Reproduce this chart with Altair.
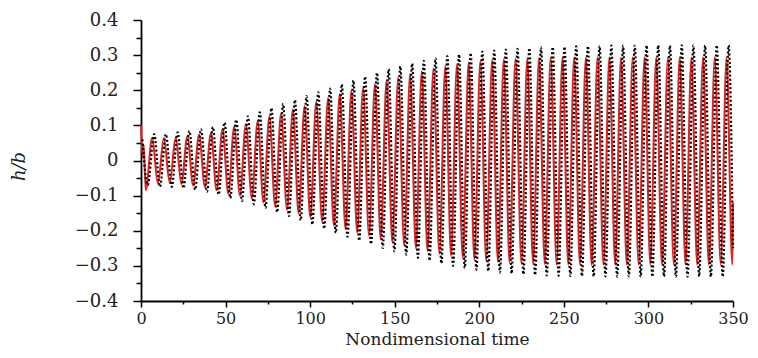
import altair as alt
import pandas as pd

# ---- data ----
# red (solid) response: extrema times and values
red_start_t = [0.0, 1.0, 1.6]
red_start_v = [0.100, 0.010, 0.045]

red_peak_t = [6.6, 13.5, 20.5, 27.4, 34.3, 41.3, 48.2, 55.1, 62.0, 69.0,
              75.9, 82.8, 89.8, 96.7, 103.6, 110.6, 117.5, 124.4, 131.3, 138.3,
              145.2, 152.1, 159.1, 166.0, 172.9, 179.9, 186.8, 193.7, 200.6, 207.6,
              214.5, 221.4, 228.4, 235.3, 242.2, 249.2, 256.1, 263.0, 269.9, 276.9,
              283.8, 290.7, 297.7, 304.6, 311.5, 318.5, 325.4, 332.3, 339.2, 346.2]
red_peak_v = [0.065, 0.063, 0.066, 0.069, 0.073, 0.078, 0.090, 0.097, 0.104, 0.113,
              0.125, 0.134, 0.145, 0.155, 0.167, 0.178, 0.189, 0.199, 0.208, 0.218,
              0.229, 0.237, 0.246, 0.254, 0.262, 0.268, 0.274, 0.279, 0.283, 0.286,
              0.288, 0.290, 0.291, 0.292, 0.293, 0.294, 0.294, 0.293, 0.294, 0.294,
              0.293, 0.294, 0.294, 0.293, 0.294, 0.294, 0.293, 0.294, 0.294, 0.293]

red_trough_t = [2.8, 10.0, 17.0, 23.9, 30.8, 37.8, 44.7, 51.6, 58.5, 65.5,
                72.4, 79.3, 86.3, 93.2, 100.1, 107.1, 114.0, 120.9, 127.8, 134.8,
                141.7, 148.6, 155.6, 162.5, 169.4, 176.4, 183.3, 190.2, 197.1, 204.1,
                211.0, 217.9, 224.9, 231.8, 238.7, 245.7, 252.6, 259.5, 266.4, 273.4,
                280.3, 287.2, 294.2, 301.1, 308.0, 315.0, 321.9, 328.8, 335.7, 342.7,
                349.6]
red_trough_v = [-0.084, -0.066, -0.064, -0.067, -0.071, -0.076, -0.085, -0.094, -0.100, -0.108,
                -0.119, -0.130, -0.140, -0.151, -0.162, -0.174, -0.185, -0.195, -0.205, -0.214,
                -0.224, -0.233, -0.242, -0.250, -0.258, -0.265, -0.271, -0.277, -0.282, -0.286,
                -0.289, -0.291, -0.293, -0.294, -0.295, -0.296, -0.297, -0.296, -0.297, -0.297,
                -0.296, -0.297, -0.297, -0.296, -0.297, -0.297, -0.296, -0.297, -0.297, -0.296,
                -0.297]
red_end_t = [350.0]
red_end_v = [-0.120]

# black (dotted) response: extrema times and values
black_start_t = [0.8]
black_start_v = [0.060]

black_peak_t = [7.8, 14.7, 21.7, 28.6, 35.5, 42.5, 49.4, 56.3, 63.2, 70.2,
                77.1, 84.0, 91.0, 97.9, 104.8, 111.8, 118.7, 125.6, 132.5, 139.5,
                146.4, 153.3, 160.3, 167.2, 174.1, 181.1, 188.0, 194.9, 201.8, 208.8,
                215.7, 222.6, 229.6, 236.5, 243.4, 250.4, 257.3, 264.2, 271.1, 278.1,
                285.0, 291.9, 298.9, 305.8, 312.7, 319.7, 326.6, 333.5, 340.4, 347.4]
black_peak_v = [0.075, 0.075, 0.080, 0.084, 0.089, 0.095, 0.108, 0.116, 0.126, 0.137,
                0.149, 0.161, 0.172, 0.183, 0.194, 0.205, 0.217, 0.228, 0.239, 0.250,
                0.260, 0.268, 0.276, 0.284, 0.291, 0.297, 0.302, 0.306, 0.310, 0.313,
                0.316, 0.318, 0.320, 0.322, 0.323, 0.324, 0.325, 0.326, 0.326, 0.327,
                0.327, 0.327, 0.328, 0.328, 0.327, 0.328, 0.328, 0.327, 0.328, 0.328]

black_trough_t = [4.0, 11.2, 18.2, 25.1, 32.0, 39.0, 45.9, 52.8, 59.7, 66.7,
                  73.6, 80.5, 87.5, 94.4, 101.3, 108.3, 115.2, 122.1, 129.0, 136.0,
                  142.9, 149.8, 156.8, 163.7, 170.6, 177.6, 184.5, 191.4, 198.3, 205.3,
                  212.2, 219.1, 226.1, 233.0, 239.9, 246.9, 253.8, 260.7, 267.6, 274.6,
                  281.5, 288.4, 295.4, 302.3, 309.2, 316.2, 323.1, 330.0, 336.9, 343.9]
black_trough_v = [-0.070, -0.075, -0.075, -0.079, -0.083, -0.089, -0.097, -0.107, -0.115, -0.124,
                  -0.135, -0.147, -0.158, -0.170, -0.182, -0.194, -0.206, -0.217, -0.228, -0.238,
                  -0.249, -0.259, -0.268, -0.277, -0.285, -0.293, -0.300, -0.306, -0.311, -0.315,
                  -0.319, -0.322, -0.324, -0.326, -0.327, -0.328, -0.329, -0.329, -0.330, -0.330,
                  -0.331, -0.330, -0.331, -0.331, -0.330, -0.331, -0.331, -0.330, -0.331, -0.331]
black_end_t = [350.0]
black_end_v = [-0.250]

x_major = [0, 50, 100, 150, 200, 250, 300, 350]
x_minor = [25, 75, 125, 175, 225, 275, 325]
y_major = [-0.4, -0.3, -0.2, -0.1, 0.0, 0.1, 0.2, 0.3, 0.4]
y_minor = [-0.35, -0.25, -0.15, -0.05, 0.05, 0.15, 0.25, 0.35]

# ---- tables ----
red_df = pd.DataFrame({
    "t": red_start_t + red_peak_t + red_trough_t + red_end_t,
    "v": red_start_v + red_peak_v + red_trough_v + red_end_v,
}).sort_values("t").reset_index(drop=True)

black_df = pd.DataFrame({
    "t": black_start_t + black_peak_t + black_trough_t + black_end_t,
    "v": black_start_v + black_peak_v + black_trough_v + black_end_v,
}).sort_values("t").reset_index(drop=True)

FONT = "DejaVu Serif"
RED = "#e5201e"

xscale = alt.Scale(domain=[0, 350], nice=False, zero=False)
yscale = alt.Scale(domain=[-0.4, 0.4], nice=False, zero=False)

major_x = alt.Axis(
    orient="bottom", values=x_major, format="d", grid=False,
    domainColor="black", domainWidth=1.8, tickColor="black", tickWidth=1.5,
    tickSize=6, labelFont=FONT, labelFontSize=16, labelColor="#222222",
    labelPadding=3, labelFlush=False,
    title="Nondimensional time", titleFont=FONT, titleFontSize=17,
    titleFontWeight="normal", titleColor="#222222", titleY=43,
    titleBaseline="alphabetic",
)
major_y = alt.Axis(
    orient="left", values=y_major, grid=False,
    labelExpr="datum.value == 0 ? '0' : format(datum.value, '.1f')",
    domainColor="black", domainWidth=1.8, tickColor="black", tickWidth=1.5,
    tickSize=8, labelFont=FONT, labelFontSize=18, labelColor="#222222",
    labelPadding=15, labelFlush=False,
    title="h/b", titleFont=FONT, titleFontSize=18, titleFontStyle="italic",
    titleFontWeight="normal", titleColor="#222222", titleX=-117, titleY=146,
    titleBaseline="alphabetic",
)
minor_x = alt.Axis(
    orient="bottom", values=x_minor, grid=False, labels=False, domain=False,
    tickColor="black", tickWidth=1.5, tickSize=3, title=None,
)
minor_y = alt.Axis(
    orient="left", values=y_minor, grid=False, labels=False, domain=False,
    tickColor="black", tickWidth=1.5, tickSize=5, title=None,
)

red_line = alt.Chart(red_df).mark_line(
    color=RED, strokeWidth=2, interpolate="monotone"
).encode(
    x=alt.X("t:Q", scale=xscale, axis=major_x),
    y=alt.Y("v:Q", scale=yscale, axis=major_y),
    order="t:Q",
)

black_line = alt.Chart(black_df).mark_line(
    color="black", strokeWidth=2.2, strokeDash=[2, 2.2], interpolate="monotone"
).encode(
    x=alt.X("t:Q", scale=xscale, axis=minor_x),
    y=alt.Y("v:Q", scale=yscale, axis=minor_y),
    order="t:Q",
)

chart = alt.layer(red_line, black_line).resolve_axis(
    x="independent", y="independent"
).properties(
    width=592, height=281,
    autosize=alt.AutoSizeParams(type="none"),
    padding={"left": 133, "top": 12, "right": 17, "bottom": 47},
    background="white",
).configure_view(strokeWidth=0)

chart.save("out.html", embed_options={"renderer": "svg", "actions": False})
